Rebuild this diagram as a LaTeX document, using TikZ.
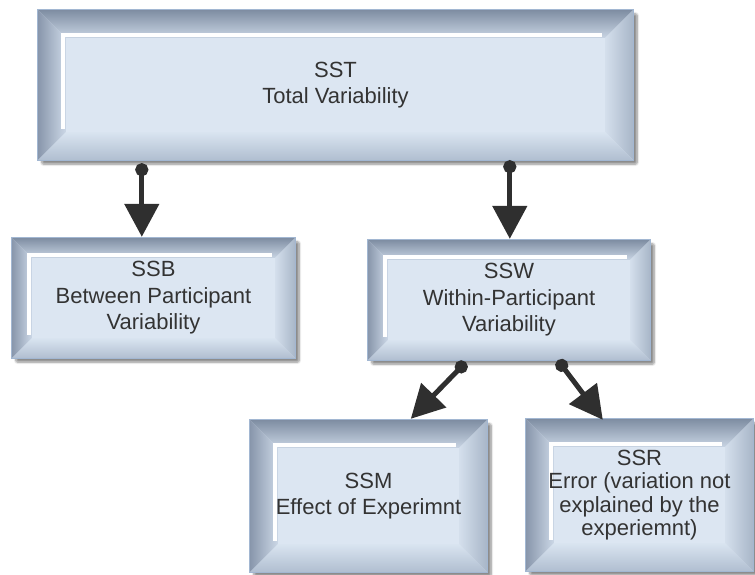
\documentclass[tikz,border=0pt]{standalone}
\usepackage{fontspec}
\setmainfont{Liberation Sans}
\usetikzlibrary{arrows.meta,calc,shadows.blur}
\pgfdeclarelayer{bg}
\pgfsetlayers{bg,main}
\definecolor{face}{HTML}{DCE6F2}
\definecolor{topdark}{HTML}{7E8DA2}
\definecolor{toplight}{HTML}{C8D4E3}
\definecolor{leftdark}{HTML}{8896AB}
\definecolor{leftlight}{HTML}{CBD7E6}
\definecolor{rightlight}{HTML}{D4DFEC}
\definecolor{rightdark}{HTML}{A8B6C8}
\definecolor{botlight}{HTML}{D9E4F0}
\definecolor{botdark}{HTML}{B0BED0}
\definecolor{bordercol}{HTML}{A2B7D2}
\definecolor{ink}{HTML}{333333}
\definecolor{arr}{HTML}{2F2F2F}
\tikzset{
  box/.style={rectangle, inner sep=0pt, align=center, text=ink,
    font=\fontsize{22}{26.5}\selectfont},
  conn/.style={arr, line width=5pt,
    {Circle[length=13pt,width=13pt]}-{Triangle[length=33pt,width=34pt]}},
}
\newcommand\bevel[2]{%
\begin{pgfonlayer}{bg}
\coordinate (#1-a) at (#1.north west);
\coordinate (#1-b) at (#1.north east);
\coordinate (#1-c) at (#1.south east);
\coordinate (#1-d) at (#1.south west);
\coordinate (#1-A) at ($(#1.north west)+(#2,-#2)$);
\coordinate (#1-B) at ($(#1.north east)+(-#2,-#2)$);
\coordinate (#1-C) at ($(#1.south east)+(-#2,#2)$);
\coordinate (#1-D) at ($(#1.south west)+(#2,#2)$);
\fill[face, blur shadow={shadow xshift=4pt, shadow yshift=-4pt, shadow blur steps=10, shadow blur extra rounding=2pt, shadow opacity=45}] (#1-a) rectangle (#1-c);
\fill[face] (#1-A) rectangle (#1-C);
\shade[top color=topdark, bottom color=toplight] (#1-a)--(#1-b)--(#1-B)--(#1-A)--cycle;
\shade[left color=leftdark, right color=leftlight] (#1-a)--(#1-A)--(#1-D)--(#1-d)--cycle;
\shade[left color=rightlight, right color=rightdark] (#1-b)--(#1-c)--(#1-C)--(#1-B)--cycle;
\shade[top color=botlight, bottom color=botdark] (#1-d)--(#1-D)--(#1-C)--(#1-c)--cycle;
\draw[white, line width=4pt, line cap=butt] ($(#1-D)+(-3,3)$) -- ($(#1-A)+(-3,3)$) -- ($(#1-B)+(-3,3)$);
\draw[bordercol, line width=1.2pt] (#1-a) rectangle (#1-c);
\end{pgfonlayer}}
\begin{document}
\begin{tikzpicture}[x=1pt,y=1pt]
\useasboundingbox (0,0) rectangle (755,-574);
\node[box, minimum width=595pt, minimum height=150pt] (sst) at (335.5,-85) {SST\\Total Variability};
\bevel{sst}{28}
\node[box, minimum width=283pt, minimum height=120pt] (ssb) at (153.5,-298) {SSB\\Between Participant\\Variability};
\bevel{ssb}{20}
\node[box, minimum width=282pt, minimum height=120pt] (ssw) at (509,-300) {SSW\\Within-Participant\\Variability};
\bevel{ssw}{20}
\node[box, minimum width=237pt, minimum height=152pt] (ssm) at (368.5,-496) {SSM\\Effect of Experimnt};
\bevel{ssm}{28}
\node[box, minimum width=227pt, minimum height=152pt, font=\fontsize{22}{23.5}\selectfont] (ssr) at (639.5,-495) {SSR\\Error (variation not\\explained by the\\experiemnt)};
\bevel{ssr}{28}
\draw[conn] ($(sst.south west)+(104,-3)$) -- ($(ssb.north west)+(130,1)$);
\draw[conn] ($(sst.south west)+(472,-0)$) -- ($(ssw.north west)+(142,1)$);
\draw[conn] ($(ssw.south west)+(98,-2)$) -- ($(ssm.north west)+(161,1)$);
\draw[conn] ($(ssw.south west)+(190,0)$) -- ($(ssr.north west)+(77,-1)$);
\end{tikzpicture}
\end{document}
